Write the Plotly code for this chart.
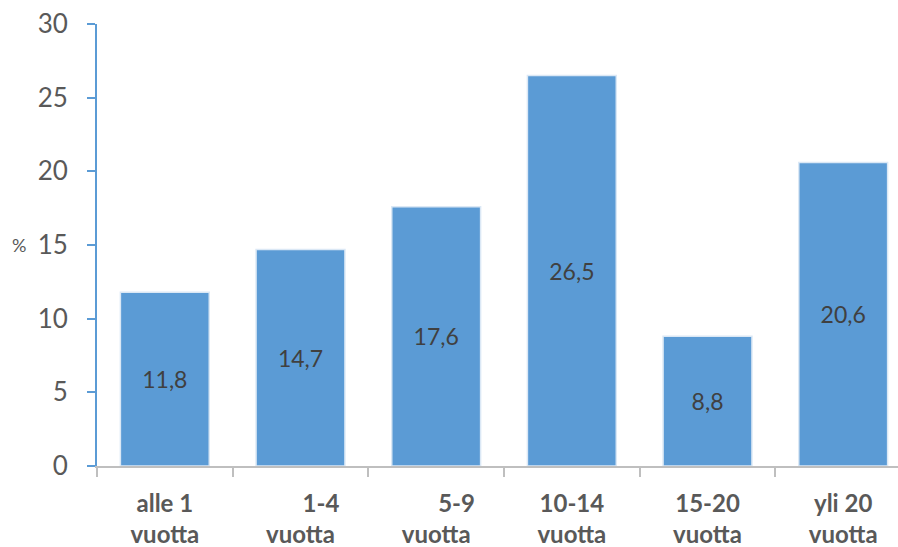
import plotly.graph_objects as go

categories = ["alle 1<br>vuotta",
              "\u00a0\u00a0\u00a0\u00a0\u00a0\u00a0\u00a01-4<br>vuotta",
              "\u00a0\u00a0\u00a0\u00a0\u00a0\u00a0\u00a05-9<br>vuotta",
              "10-14<br>vuotta", "15-20<br>vuotta", "yli 20<br>vuotta"]
values = [11.8, 14.7, 17.6, 26.5, 8.8, 20.6]
value_labels = ["11,8", "14,7", "17,6", "26,5", "8,8", "20,6"]
y_ticks = [0, 5, 10, 15, 20, 25, 30]

FONT = "Lato"
fig = go.Figure()
fig.add_trace(go.Bar(
    x=list(range(len(values))), y=values,
    text=value_labels, textposition="inside", insidetextanchor="middle",
    textfont=dict(family=FONT, size=23, color="#404040"),
    marker=dict(color="#5b9bd5", line=dict(color="#dbe8f5", width=1.5)),
    width=0.655,
))
fig.update_layout(
    width=898, height=547,
    margin=dict(l=97, r=0, t=24, b=81),
    plot_bgcolor="white", paper_bgcolor="white",
    showlegend=False,
    font=dict(family=FONT, color="#595959"),
    annotations=[dict(text="%", x=-0.098, y=0.5, xref="paper", yref="paper", xanchor="center",
                      showarrow=False, font=dict(family=FONT, size=18, color="#595959"))],
)
fig.update_xaxes(
    type="linear", range=[-0.5, 5.404],
    tickmode="array", tickvals=list(range(len(values))), ticktext=categories,
    ticks="", showline=True, linecolor="#bfbfbf", linewidth=1.5,
    tickfont=dict(family=FONT, size=24, color="#595959", weight="bold"),
    showgrid=False, zeroline=False, ticklabelstandoff=15,
)
fig.update_xaxes(minor=dict(tickmode="array", tickvals=[i - 0.5 for i in range(len(values) + 1)],
                            ticks="outside", ticklen=9, tickcolor="#bfbfbf", tickwidth=1.5, showgrid=False))
fig.update_yaxes(
    range=[0, 30], tickvals=y_ticks, showline=True, linecolor="#5b9bd5", linewidth=2,
    ticks="outside", ticklen=8, tickcolor="#5b9bd5", tickwidth=2,
    tickfont=dict(family=FONT, size=26, color="#595959"),
    showgrid=False, zeroline=False, ticklabelstandoff=14,
)
fig.write_html("out.html")
